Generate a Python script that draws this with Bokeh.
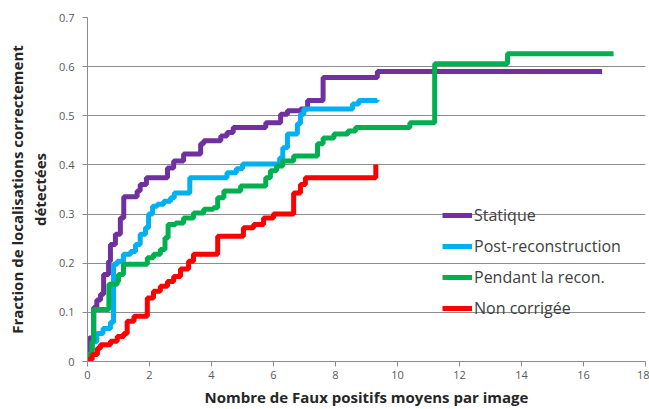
from bokeh.plotting import figure
from bokeh.models import Legend, LegendItem, FixedTicker
from bokeh.embed import file_html
from bokeh.resources import INLINE

# ---- data (step points: x where the curve jumps, new y value) ----
stat_x = [0, 0.05, 0.2, 0.3, 0.42, 0.52, 0.68, 0.74, 0.9, 1.06, 1.17, 1.6, 1.7, 1.9,
          2.58, 2.78, 3.1, 3.65, 3.75, 4.3, 4.5, 4.7, 5.75, 6.23, 6.45, 6.87, 7.1,
          7.6, 9.35, 16.6]
stat_y = [0.02, 0.048, 0.11, 0.125, 0.137, 0.177, 0.204, 0.238, 0.259, 0.292, 0.335,
          0.347, 0.36, 0.374, 0.394, 0.408, 0.422, 0.443, 0.449, 0.459, 0.466, 0.476,
          0.486, 0.503, 0.51, 0.514, 0.531, 0.578, 0.59, 0.59]

post_x = [0, 0.15, 0.3, 0.5, 0.74, 0.84, 0.96, 1.16, 1.39, 1.55, 1.7, 1.87, 1.97, 2.1,
          2.25, 2.46, 2.68, 2.8, 3.3, 4.5, 4.8, 5.0, 6.2, 6.3, 6.45, 6.77, 6.87, 6.98,
          8.55, 8.75, 9.35]
post_y = [0.014, 0.04, 0.057, 0.067, 0.08, 0.198, 0.204, 0.218, 0.224, 0.238, 0.259,
          0.272, 0.3, 0.316, 0.32, 0.326, 0.333, 0.343, 0.374, 0.384, 0.392, 0.402,
          0.414, 0.435, 0.463, 0.484, 0.503, 0.514, 0.524, 0.531, 0.532]

pend_x = [0, 0.15, 0.2, 0.69, 0.96, 1.0, 1.16, 1.93, 2.13, 2.35, 2.5, 2.6, 2.84, 3.1,
          3.42, 3.75, 4.06, 4.2, 4.4, 4.94, 5.75, 5.9, 6.1, 6.3, 6.65, 7.42, 7.6, 7.95,
          8.4, 8.65, 10.4, 11.2, 13.55, 16.97]
pend_y = [0.014, 0.04, 0.106, 0.157, 0.163, 0.177, 0.198, 0.211, 0.218, 0.228, 0.252,
          0.279, 0.282, 0.292, 0.302, 0.31, 0.313, 0.333, 0.347, 0.357, 0.374, 0.388,
          0.398, 0.408, 0.418, 0.443, 0.455, 0.463, 0.469, 0.476, 0.486, 0.606, 0.626,
          0.626]

nonc_x = [0, 0.15, 0.32, 0.42, 0.74, 0.96, 1.17, 1.28, 1.5, 1.93, 2.13, 2.35, 2.58,
          2.78, 3.0, 3.26, 3.42, 4.2, 5.03, 5.36, 5.68, 6.0, 6.65, 6.87, 7.03, 9.3]
nonc_y = [0.004, 0.014, 0.027, 0.034, 0.041, 0.051, 0.057, 0.082, 0.092, 0.129, 0.143,
          0.153, 0.163, 0.173, 0.188, 0.204, 0.218, 0.255, 0.272, 0.279, 0.292, 0.3,
          0.343, 0.36, 0.374, 0.401]

series_names = ["Statique", "Post-reconstruction", "Pendant la recon.", "Non corrigée"]
x_ticks = [0, 2, 4, 6, 8, 10, 12, 14, 16, 18]
y_ticks = [0, 0.1, 0.2, 0.3, 0.4, 0.5, 0.6, 0.7]
x_title = "Nombre de Faux positifs moyens par image"
y_title = "Fraction de localisations correctement\ndétectées"

colors = ["#7030A0", "#00B0F0", "#00B050", "#FF0000"]
FONT = "Open Sans"

p = figure(width=649, height=409, x_range=(0, 18), y_range=(0, 0.7),
           output_backend="svg", toolbar_location=None,
           min_border_left=87, min_border_top=17, min_border_right=4,
           min_border_bottom=0)
p.outline_line_color = None
p.background_fill_color = "white"

# grid
p.xgrid.grid_line_color = None
p.ygrid.grid_line_color = "#8C8C8C"
p.ygrid.grid_line_width = 1

# axes
p.xaxis.ticker = FixedTicker(ticks=x_ticks)
p.yaxis.ticker = FixedTicker(ticks=y_ticks)
p.yaxis.major_label_overrides = {0: "0"}
for ax in (p.xaxis[0], p.yaxis[0]):
    ax.axis_line_color = "#8C8C8C"
    ax.major_tick_line_color = "#8C8C8C"
    ax.minor_tick_line_color = None
    ax.major_tick_in = 0
    ax.major_tick_out = 5
    ax.major_label_text_font = FONT
    ax.major_label_text_font_size = "11px"
    ax.major_label_text_color = "#595959"
    ax.axis_label_text_font = FONT
    ax.axis_label_text_font_size = "15px"
    ax.axis_label_text_font_style = "bold"
    ax.axis_label_text_color = "#262626"

p.xaxis.major_label_standoff = 4
p.xaxis.axis_label = x_title
p.xaxis.axis_label_standoff = 5
p.yaxis.major_label_standoff = 8
p.yaxis.axis_label = y_title
p.yaxis.axis_label_text_align = "center"
p.yaxis.axis_label_text_line_height = 1.15
p.yaxis.axis_label_standoff = 6

renderers = []
for xs, ys, c in zip([stat_x, post_x, pend_x, nonc_x],
                     [stat_y, post_y, pend_y, nonc_y], colors):
    r = p.step(xs, ys, mode="after", line_color=c, line_width=5)
    renderers.append(r)

legend = Legend(items=[LegendItem(label=n, renderers=[r])
                       for n, r in zip(series_names, renderers)])
legend.location = (355, 42)
legend.background_fill_alpha = 0
legend.border_line_color = None
legend.padding = 0
legend.margin = 0
legend.spacing = 9
legend.label_height = 20
legend.glyph_height = 20
legend.glyph_width = 30
legend.label_standoff = 2
legend.label_text_font = FONT
legend.label_text_font_size = "16px"
legend.label_text_color = "#404040"
p.add_layout(legend, "center")

open("out.html", "w").write(file_html(p, INLINE))
